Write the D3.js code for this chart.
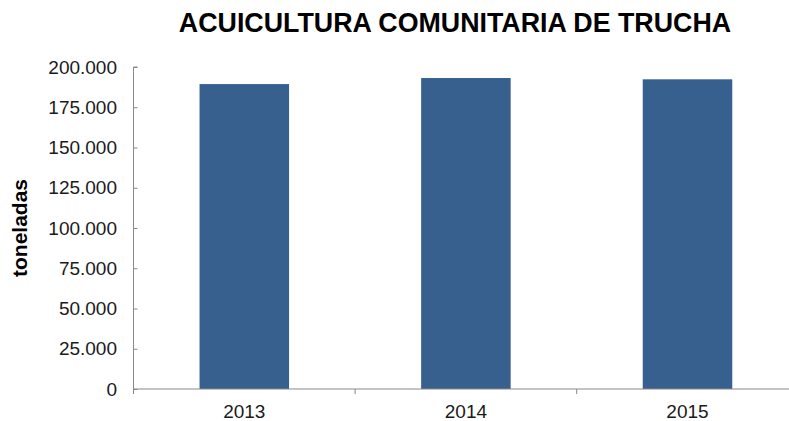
<!DOCTYPE html>
<html><head><meta charset="utf-8">
<script src="https://cdn.jsdelivr.net/npm/d3@7"></script>
<style>body{margin:0;background:#fff}svg{display:block}</style>
</head><body>
<script>
const categories = ["2013", "2014", "2015"];
const values = [189400, 193150, 192350];
const yTicks = [0, 25000, 50000, 75000, 100000, 125000, 150000, 175000, 200000];
const title = "ACUICULTURA COMUNITARIA DE TRUCHA";
const yLabel = "toneladas";

const W = 789, H = 421;
const svg = d3.select("body").append("svg").attr("width", W).attr("height", H);
const font = "'Liberation Sans', Arial, sans-serif";

const x = d3.scaleBand().domain(categories).range([133.5, 798.3]).paddingInner(0.596).paddingOuter(0.298);
const y = d3.scaleLinear().domain([0, 200000]).range([389, 67]);
const fmt = v => v === 0 ? "0" : d3.format(",")(v).replace(/,/g, ".");

svg.append("g").selectAll("rect").data(values).join("rect")
  .attr("x", (d, i) => x(categories[i]))
  .attr("y", d => y(d))
  .attr("width", x.bandwidth())
  .attr("height", d => y(0) - y(d))
  .attr("fill", "#37608f");

// Y axis
const yAxis = svg.append("g").attr("transform", "translate(133.5,0)")
  .call(d3.axisRight(y).tickValues(yTicks).tickSize(4).tickFormat(""));
yAxis.select(".domain").attr("stroke", "#898989").attr("d", `M4,${y(200000)}H0V${y(0)}`);
yAxis.selectAll(".tick line").attr("stroke", "#898989");
svg.append("g").selectAll("text").data(yTicks).join("text")
  .attr("x", 117).attr("y", d => y(d)).attr("dy", "0.35em")
  .attr("text-anchor", "end").attr("font-family", font).attr("font-size", 19)
  .attr("fill", "#1a1a1a").text(fmt);

// X axis
const step = x.step();
const bounds = [0, 1, 2, 3].map(i => 133.5 + i * step);
const xg = svg.append("g");
xg.append("line").attr("x1", 133.5).attr("x2", W).attr("y1", y(0)).attr("y2", y(0)).attr("stroke", "#898989");
xg.selectAll("line.t").data(bounds).join("line").attr("class", "t")
  .attr("x1", d => d).attr("x2", d => d).attr("y1", y(0)).attr("y2", y(0) + 5).attr("stroke", "#898989");
xg.selectAll("text").data(categories).join("text")
  .attr("x", d => x(d) + x.bandwidth() / 2).attr("y", 411).attr("dy", "0.35em")
  .attr("text-anchor", "middle").attr("font-family", font).attr("font-size", 19)
  .attr("fill", "#1a1a1a").text(d => d);

// Title
svg.append("text").attr("x", 455).attr("y", 23).attr("dy", "0.35em")
  .attr("text-anchor", "middle").attr("font-family", font).attr("font-weight", "bold")
  .attr("font-size", 26.8).attr("fill", "#000").text(title);

// Y label
svg.append("text").attr("transform", "translate(20,228) rotate(-90)").attr("dy", "0.35em")
  .attr("text-anchor", "middle").attr("font-family", font).attr("font-weight", "bold")
  .attr("font-size", 21).attr("fill", "#000").text(yLabel);
</script>
</body></html>
